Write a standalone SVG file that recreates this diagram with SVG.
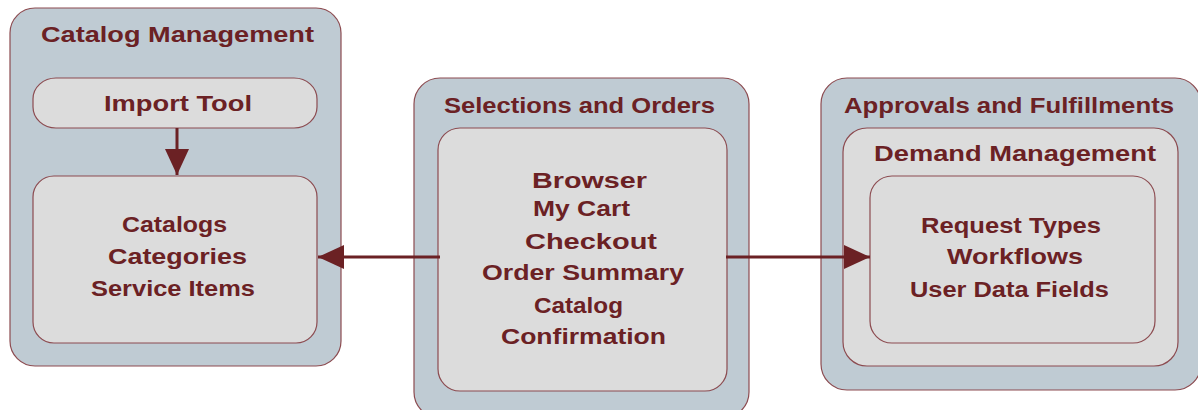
<svg xmlns="http://www.w3.org/2000/svg" width="1198" height="410" viewBox="0 0 1198 410">
  <style>
    .outer { fill: #bfcbd3; stroke: #8c4b50; stroke-width: 1.2; }
    .inner { fill: #dcdcdc; stroke: #8c4b50; stroke-width: 1.2; }
    .lbl { font-family: "Liberation Sans", Arial, sans-serif; font-weight: bold; font-size: 22.5px; fill: #6b2124; text-anchor: start; }
    .conn { stroke: #6b2124; stroke-width: 3; fill: none; }
  </style>
  <defs>
    <marker id="arrow" markerUnits="userSpaceOnUse" markerWidth="26" markerHeight="24" refX="26" refY="12" orient="auto">
      <path d="M0,0 L26,12 L0,24 Z" fill="#6b2124"/>
    </marker>
  </defs>
  <rect width="1198" height="410" fill="#ffffff"/>

  <!-- Catalog Management -->
  <g id="catalog-management">
    <rect class="outer" x="10" y="8" width="331" height="358" rx="25" ry="25"/>
    <text class="lbl" x="41" y="42" textLength="273" lengthAdjust="spacingAndGlyphs">Catalog Management</text>
  </g>
  <g id="import-tool">
    <rect class="inner" x="33" y="78" width="284" height="50" rx="23" ry="21"/>
    <text class="lbl" x="104" y="111" textLength="148" lengthAdjust="spacingAndGlyphs">Import Tool</text>
  </g>
  <g id="catalog-items">
    <rect class="inner" x="33" y="176" width="284" height="167" rx="21" ry="21"/>
    <text class="lbl" x="122" y="232" textLength="105" lengthAdjust="spacingAndGlyphs">Catalogs</text>
    <text class="lbl" x="108" y="264" textLength="139" lengthAdjust="spacingAndGlyphs">Categories</text>
    <text class="lbl" x="91" y="296" textLength="164" lengthAdjust="spacingAndGlyphs">Service Items</text>
  </g>

  <!-- Selections and Orders -->
  <g id="selections-orders">
    <rect class="outer" x="414" y="78" width="335" height="340" rx="26" ry="26"/>
    <text class="lbl" x="444" y="113" textLength="271" lengthAdjust="spacingAndGlyphs">Selections and Orders</text>
  </g>
  <g id="order-steps">
    <rect class="inner" x="438" y="128" width="289" height="263" rx="22" ry="22"/>
    <text class="lbl" x="532" y="188" textLength="115" lengthAdjust="spacingAndGlyphs">Browser</text>
    <text class="lbl" x="533" y="216" textLength="97" lengthAdjust="spacingAndGlyphs">My Cart</text>
    <text class="lbl" x="525" y="249" textLength="132" lengthAdjust="spacingAndGlyphs">Checkout</text>
    <text class="lbl" x="482" y="280" textLength="202" lengthAdjust="spacingAndGlyphs">Order Summary</text>
    <text class="lbl" x="534" y="313" textLength="89" lengthAdjust="spacingAndGlyphs">Catalog</text>
    <text class="lbl" x="501" y="344" textLength="165" lengthAdjust="spacingAndGlyphs">Confirmation</text>
  </g>

  <!-- Approvals and Fulfillments -->
  <g id="approvals-fulfillments">
    <rect class="outer" x="821" y="78" width="380" height="312" rx="26" ry="26"/>
    <text class="lbl" x="844" y="113" textLength="330" lengthAdjust="spacingAndGlyphs">Approvals and Fulfillments</text>
  </g>
  <g id="demand-management">
    <rect class="inner" x="843" y="128" width="335" height="238" rx="24" ry="24"/>
    <text class="lbl" x="874" y="161" textLength="282" lengthAdjust="spacingAndGlyphs">Demand Management</text>
  </g>
  <g id="demand-items">
    <rect class="inner" x="870" y="176" width="285" height="167" rx="22" ry="22"/>
    <text class="lbl" x="921" y="233" textLength="180" lengthAdjust="spacingAndGlyphs">Request Types</text>
    <text class="lbl" x="947" y="264" textLength="136" lengthAdjust="spacingAndGlyphs">Workflows</text>
    <text class="lbl" x="910" y="297" textLength="199" lengthAdjust="spacingAndGlyphs">User Data Fields</text>
  </g>

  <!-- Connectors -->
  <g id="connectors">
    <line class="conn" x1="177" y1="128" x2="177" y2="175" marker-end="url(#arrow)"/>
    <line class="conn" x1="440" y1="257" x2="318" y2="257" marker-end="url(#arrow)"/>
    <line class="conn" x1="726" y1="257" x2="870" y2="257" marker-end="url(#arrow)"/>
  </g>
</svg>
